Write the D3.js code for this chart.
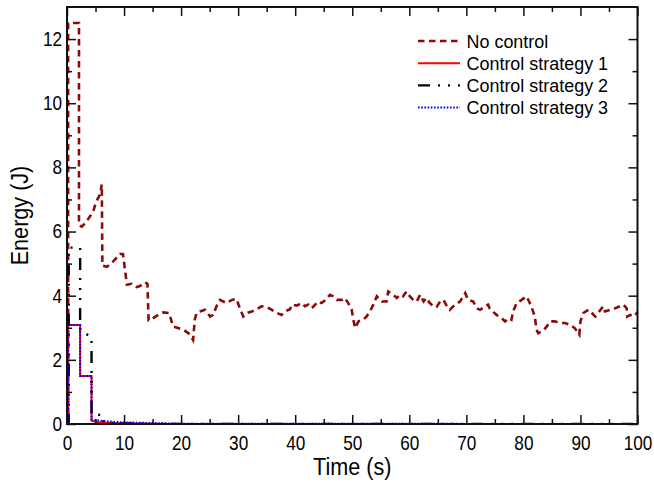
<!DOCTYPE html>
<html>
<head>
<meta charset="utf-8">
<script src="https://cdn.jsdelivr.net/npm/d3@7"></script>
<style>
  body { margin: 0; background: #fff; }
  svg { display: block; font-family: "Liberation Sans", Arial, Helvetica, sans-serif; }
</style>
</head>
<body>
<svg id="chart" width="654" height="482"></svg>
<script>
"use strict";

// Energy vs time, [t (s), E (J)]
const noControl = [
    [0, 0], [0.2, 0], [0.2, 12.5], [2.1, 12.5], [2.1, 6.2], [2.6, 6.15], [3.45, 6.32],
    [4.6, 6.63], [5.1, 6.92], [5.8, 7.16], [6.1, 7.47], [6.2, 4.94], [7.0, 4.9],
    [8.1, 5.07], [9.3, 5.3], [9.8, 5.3], [10.1, 4.9], [10.5, 4.34], [11.3, 4.37],
    [12.2, 4.27], [12.8, 4.3], [13.7, 4.42], [14.1, 4.37], [14.3, 3.23], [14.5, 3.23],
    [15.7, 3.37], [16.9, 3.48], [17.9, 3.46], [18.6, 3.04], [20.4, 2.94], [21.5, 2.8],
    [22.1, 2.62], [22.4, 3.25], [22.7, 3.46], [23.3, 3.51], [24.2, 3.56], [25.1, 3.35],
    [25.6, 3.4], [26.2, 3.67], [26.8, 3.87], [27.4, 3.82], [28.0, 3.77], [28.9, 3.87],
    [29.7, 3.9], [30.3, 3.61], [30.9, 3.35], [31.5, 3.46], [32.4, 3.51], [33.3, 3.58],
    [34.1, 3.67], [35.0, 3.65], [35.9, 3.56], [36.8, 3.46], [37.6, 3.4], [38.2, 3.51],
    [39.1, 3.58], [39.4, 3.72], [40.3, 3.69], [41.1, 3.77], [41.7, 3.67], [42.3, 3.72],
    [42.9, 3.61], [43.5, 3.72], [44.0, 3.82], [44.6, 3.77], [45.2, 3.85], [46.1, 4.03],
    [46.7, 3.98], [47.3, 3.87], [48.2, 3.87], [48.7, 3.93], [49.3, 3.77], [49.9, 3.56],
    [50.2, 3.25], [50.5, 2.99], [51.1, 3.2], [51.9, 3.25], [52.5, 3.35], [53.1, 3.51],
    [53.7, 3.72], [54.3, 3.98], [55.2, 3.82], [56.0, 3.82], [56.3, 4.13], [57.2, 4.03],
    [57.8, 3.93], [58.4, 4.03], [58.9, 3.98], [59.5, 4.13], [60.1, 3.98], [60.7, 3.87],
    [61.3, 3.82], [61.9, 4.03], [62.5, 3.82], [63.0, 3.93], [63.6, 3.77], [64.2, 3.67],
    [64.8, 3.65], [65.4, 3.82], [66.0, 3.87], [66.6, 3.67], [67.1, 3.56], [68.0, 3.72],
    [68.9, 3.82], [69.8, 4.08], [70.3, 3.87], [71.2, 3.82], [71.8, 3.61], [72.4, 3.56],
    [73.3, 3.67], [73.8, 3.72], [74.1, 3.6], [74.7, 3.5], [75.3, 3.4], [76.2, 3.3],
    [76.8, 3.2], [77.4, 3.3], [77.9, 3.25], [78.2, 3.51], [78.8, 3.77], [79.7, 3.87],
    [80.5, 3.98], [81.0, 3.82], [81.5, 3.61], [82.0, 3.35], [82.3, 2.94], [82.6, 2.83],
    [83.5, 2.92], [84.1, 3.04], [84.7, 3.2], [85.5, 3.2], [86.4, 3.15], [87.3, 3.15],
    [88.2, 3.09], [89.0, 2.99], [89.8, 2.78], [90.0, 3.2], [90.5, 3.46], [91.4, 3.56],
    [92.0, 3.46], [92.6, 3.35], [93.1, 3.46], [94.0, 3.67], [94.3, 3.51], [95.2, 3.56],
    [96.1, 3.61], [96.9, 3.67], [97.5, 3.72], [98.1, 3.61], [98.2, 3.35], [98.7, 3.4],
    [99.3, 3.35], [99.9, 3.46], [100, 3.4]
];

const strategy1 = [
    [0, 0], [0.2, 0], [0.2, 3.09], [2.3, 3.09], [2.3, 1.5], [4.3, 1.5], [4.3, 0.1],
    [5, 0.07], [6, 0.05], [7, 0.04], [8, 0.03], [10, 0.02], [15, 0.01], [20, 0], [100, 0]
];

const strategy2 = [
    [0, 0], [0.3, 0], [0.3, 5.5], [2.3, 5.5], [2.3, 2.9], [4.3, 2.72], [4.3, 0.3],
    [6.3, 0.28], [6.4, 0.05], [8, 0.03], [10, 0.02], [15, 0.01], [20, 0], [100, 0]
];

const strategy3 = [
    [0, 0], [0.2, 0], [0.2, 3.09], [2.3, 3.09], [2.3, 1.5], [4.3, 1.5], [4.3, 0.15],
    [5, 0.12], [6, 0.1], [7, 0.08], [8, 0.07], [10, 0.05], [15, 0.03], [20, 0.01], [100, 0]
];

const seriesNames = ['No control', 'Control strategy 1', 'Control strategy 2', 'Control strategy 3'];
const xTicks = [0, 10, 20, 30, 40, 50, 60, 70, 80, 90, 100];
const yTicks = [0, 2, 4, 6, 8, 10, 12];

const width = 654;
const height = 482;
const margin = { left: 67, right: 16.5, top: 7, bottom: 58 };

const svg = d3.select('#chart');

const x = d3.scaleLinear().domain([0, 100]).range([margin.left, width - margin.right]);
const y = d3.scaleLinear().domain([0, 13]).range([height - margin.bottom, margin.top]);

svg.append('defs').append('clipPath')
    .attr('id', 'plotClip')
    .append('rect')
    .attr('x', margin.left)
    .attr('y', margin.top)
    .attr('width', width - margin.left - margin.right)
    .attr('height', height - margin.top - margin.bottom);

// Line styles for each series
const styles = [
    { color: '#8b0a0a', width: 2.6, dash: '6.5,4.5' },
    { color: '#ff0000', width: 2, dash: null },
    { color: '#000000', width: 2.4, dash: '12,8,2,8,2,8,2,8' },
    { color: '#0000ff', width: 2, dash: '1.6,1.6' }
];
const seriesData = [noControl, strategy1, strategy2, strategy3];

const line = d3.line()
    .x(d => x(d[0]))
    .y(d => y(d[1]));

const plot = svg.append('g').attr('clip-path', 'url(#plotClip)');

seriesData.forEach((data, i) => {
    plot.append('path')
        .datum(data)
        .attr('fill', 'none')
        .attr('stroke', styles[i].color)
        .attr('stroke-width', styles[i].width)
        .attr('stroke-dasharray', styles[i].dash)
        .attr('stroke-linejoin', 'miter')
        .attr('d', line);
});

// Axes: ticks point inward, mirrored on top and right
const majorLen = 9;
const minorLen = 5;
const xMinor = d3.range(5, 100, 10);
const yMinor = d3.range(1, 13, 2);

const axisColor = '#111';

const gBottom = svg.append('g')
    .attr('transform', 'translate(0,' + y(0) + ')')
    .call(d3.axisBottom(x).tickValues(xTicks).tickSize(-majorLen).tickPadding(12));

svg.append('g')
    .attr('transform', 'translate(0,' + y(13) + ')')
    .call(d3.axisTop(x).tickValues(xTicks).tickSize(-majorLen).tickFormat(''));

const gLeft = svg.append('g')
    .attr('transform', 'translate(' + x(0) + ',0)')
    .call(d3.axisLeft(y).tickValues(yTicks).tickSize(-majorLen).tickPadding(5));

svg.append('g')
    .attr('transform', 'translate(' + x(100) + ',0)')
    .call(d3.axisRight(y).tickValues(yTicks).tickSize(-majorLen).tickFormat(''));

svg.append('g').attr('transform', 'translate(0,' + y(0) + ')')
    .call(d3.axisBottom(x).tickValues(xMinor).tickSize(-minorLen).tickFormat(''));
svg.append('g').attr('transform', 'translate(0,' + y(13) + ')')
    .call(d3.axisTop(x).tickValues(xMinor).tickSize(-minorLen).tickFormat(''));
svg.append('g').attr('transform', 'translate(' + x(0) + ',0)')
    .call(d3.axisLeft(y).tickValues(yMinor).tickSize(-minorLen).tickFormat(''));
svg.append('g').attr('transform', 'translate(' + x(100) + ',0)')
    .call(d3.axisRight(y).tickValues(yMinor).tickSize(-minorLen).tickFormat(''));

svg.selectAll('.domain').remove();
svg.selectAll('.tick line').attr('stroke', axisColor).attr('stroke-width', 1.5);

// Tick labels in the reference are a narrow Helvetica: enlarge and squeeze
gBottom.selectAll('.tick text')
    .attr('fill', '#000')
    .style('font-size', '20px')
    .attr('transform', 'scale(0.86,1)');
gLeft.selectAll('.tick text')
    .attr('fill', '#000')
    .style('font-size', '20px')
    .attr('x', -5 / 0.86)
    .attr('transform', 'scale(0.86,1)');

// Frame
svg.append('rect')
    .attr('x', x(0))
    .attr('y', y(13))
    .attr('width', x(100) - x(0))
    .attr('height', y(0) - y(13))
    .attr('fill', 'none')
    .attr('stroke', axisColor)
    .attr('stroke-width', 2);

// Axis titles
svg.append('text')
    .attr('transform', 'translate(' + ((x(0) + x(100)) / 2) + ',475) scale(0.9,1)')
    .attr('text-anchor', 'middle')
    .style('font-size', '24px')
    .text('Time (s)');

svg.append('text')
    .attr('transform', 'translate(28,' + ((y(0) + y(13)) / 2) + ') rotate(-90) scale(0.9,1)')
    .attr('text-anchor', 'middle')
    .style('font-size', '24px')
    .text('Energy (J)');

// Legend
const legend = svg.append('g').attr('transform', 'translate(418,41)');
seriesNames.forEach((name, i) => {
    const row = legend.append('g').attr('transform', 'translate(0,' + (i * 22.2) + ')');
    row.append('line')
        .attr('x1', 0).attr('x2', 42)
        .attr('y1', 0).attr('y2', 0)
        .attr('stroke', styles[i].color)
        .attr('stroke-width', styles[i].width)
        .attr('stroke-dasharray', styles[i].dash);
    row.append('text')
        .attr('transform', 'translate(48.5,6.5) scale(0.97,1)')
        .style('font-size', '18.5px')
        .text(name);
});
</script>
</body>
</html>
